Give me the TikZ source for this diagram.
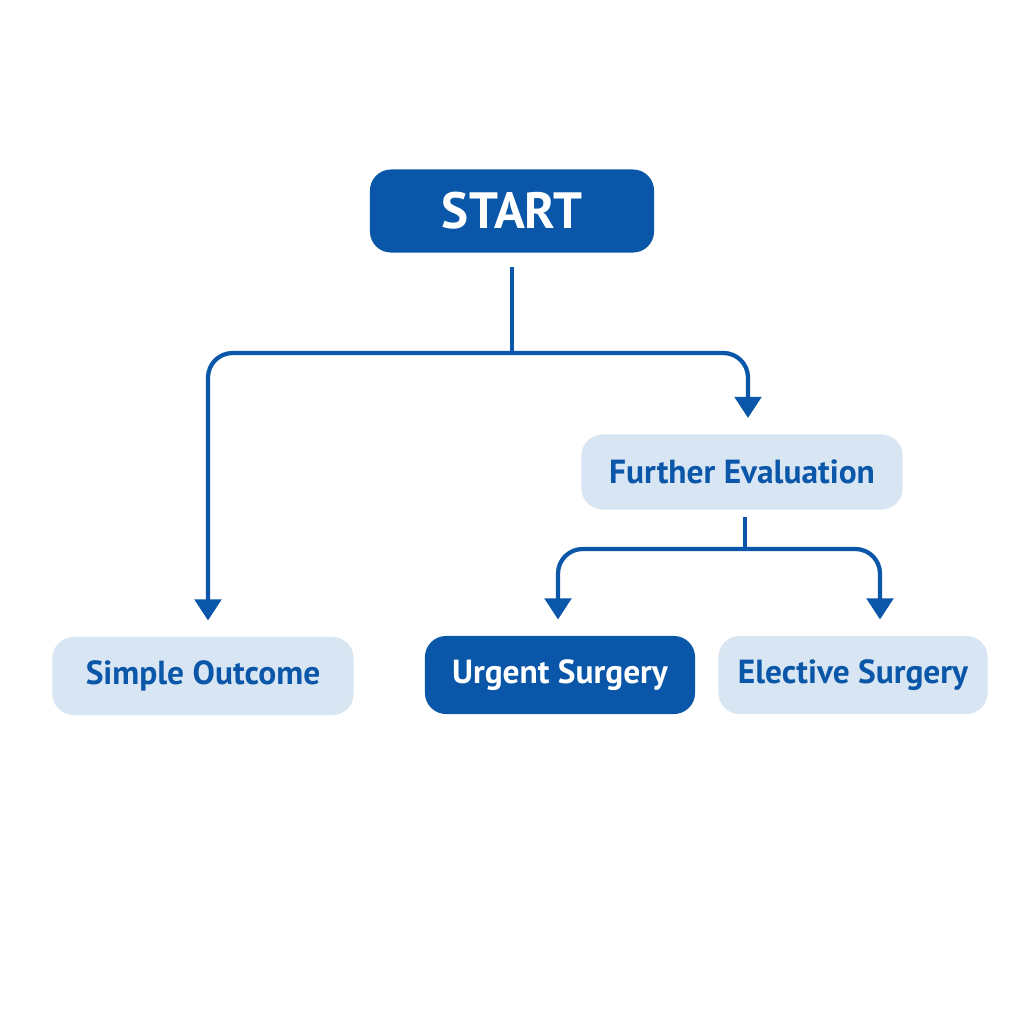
\documentclass[tikz,border=0pt]{standalone}
\usepackage{fontspec}
\setmainfont{PT Sans}
\usetikzlibrary{arrows.meta}
\definecolor{dblue}{HTML}{0A56A8}
\definecolor{lblue}{HTML}{D8E5F2}
\begin{document}
\begin{tikzpicture}[x=0.01cm,y=-0.01cm,
  box/.style={rounded corners=6pt,minimum height=0.78cm,inner sep=0pt,font=\bfseries\fontsize{9.5}{11}\selectfont},
  dark/.style={box,fill=dblue,text=white},
  light/.style={box,fill=lblue,text=dblue},
  conn/.style={draw=dblue,line width=1.2pt,rounded corners=7pt},
  arr/.style={conn,-{Triangle[width=7.5pt,length=6pt]},shorten >=4.5pt}]
\useasboundingbox[fill=white] (0,0) rectangle (1024,1024);
\node[dark,minimum width=2.84cm,minimum height=0.83cm,font=\bfseries\fontsize{14.5}{17}\selectfont] (start) at (512,211) {START};
\node[light,minimum width=3.21cm,minimum height=0.75cm] (fe) at (742,472) {Further Evaluation};
\node[light,minimum width=3.01cm] (so) at (203,676) {Simple Outcome};
\node[dark,minimum width=2.70cm] (us) at (560,675) {Urgent Surgery};
\node[light,minimum width=2.69cm] (es) at (853,675) {Elective Surgery};
\coordinate (j1) at (512,353);
\coordinate (j2) at (745,549);
\draw[conn] ([yshift=-4pt]start.south) -- (j1);
\draw[arr] (j1) -| (so.north -| 208,0);
\draw[arr] (j1) -| (fe.north -| 748,0);
\draw[conn] ([yshift=-2pt]fe.south -| j2) -- (j2);
\draw[arr] (j2) -| (us.north -| 558,0);
\draw[arr] (j2) -| (es.north -| 880,0);
\end{tikzpicture}
\end{document}
